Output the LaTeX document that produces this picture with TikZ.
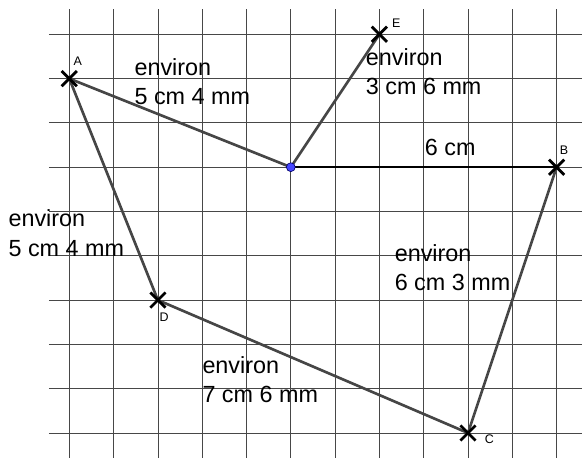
\documentclass[tikz,border=0pt]{standalone}
\usepackage{fontspec}
\setmainfont{Liberation Sans}
\usetikzlibrary{shapes.misc}
\definecolor{segcol}{RGB}{70,70,70}
\definecolor{dotblue}{RGB}{70,70,255}
\begin{document}
\begin{tikzpicture}[x=1cm,y=1cm,every node/.style={font=\fontsize{15}{18.8}\selectfont},
  gridline/.style={draw=black!72,line width=0.5pt},
  seg/.style={draw=segcol,line width=1.7pt},
  ptcross/.style={cross out,draw=black,line width=1.8pt,minimum size=0.28cm,inner sep=0pt},
  ptname/.style={font=\fontsize{8}{9}\selectfont},
  lbl/.style={anchor=base west,align=left,inner sep=0pt}]
\useasboundingbox (-1.564,-0.542) rectangle (11.573,9.774);
% squared paper
\foreach \i in {0,...,11} \draw[gridline] (\i,-0.6) -- (\i,9.56);
\foreach \j in {0,...,9} \draw[gridline] (-0.458,\j) -- (11.6,\j);
% points
\coordinate (O) at (5,6);
\coordinate (A) at (0,8);
\coordinate (B) at (11,6);
\coordinate (C) at (9,0);
\coordinate (D) at (2,3);
\coordinate (E) at (7,9);
% segments
\draw[seg] (A) -- (O) -- (E);
\draw[seg] (A) -- (D) -- (C) -- (B);
\draw[black,line width=1.2pt] (O) -- (B);
\node[ptcross] (xA) at (A) {};
\node[ptcross] (xB) at (B) {};
\node[ptcross] (xC) at (C) {};
\node[ptcross] (xD) at (D) {};
\node[ptcross] (xE) at (E) {};
\node[circle,fill=dotblue,draw=blue!40!black,line width=0.4pt,minimum size=0.2cm,inner sep=0pt] (dotO) at (O) {};
\node[ptname] at ([shift={(0.19,0.39)}]A) {A};
\node[ptname] at ([shift={(0.17,0.38)}]B) {B};
\node[ptname] at ([shift={(0.48,-0.14)}]C) {C};
\node[ptname] at ([shift={(0.14,-0.38)}]D) {D};
\node[ptname] at ([shift={(0.38,0.25)}]E) {E};
% lengths (anchored on the last line)
\node[lbl] (lAO) at (1.467,7.404) {environ\\5 cm 4 mm};
\node[lbl] (lOE) at (6.69,7.63) {environ\\3 cm 6 mm};
\node[lbl] (lOB) at (8.02,6.26) {6 cm};
\node[lbl] (lAD) at (-1.377,3.995) {environ\\5 cm 4 mm};
\node[lbl] (lBC) at (7.34,3.206) {environ\\6 cm 3 mm};
\node[lbl] (lDC) at (3.0,0.684) {environ\\7 cm 6 mm};
\end{tikzpicture}
\end{document}
